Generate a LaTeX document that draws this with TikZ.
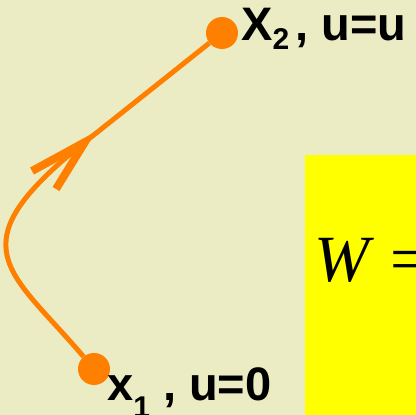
\documentclass[tikz,border=0pt]{standalone}
\usepackage{fontspec}
\setmainfont{Liberation Sans}
\newfontfamily\timesfont{Liberation Serif}
\usepackage{tikz}
\usetikzlibrary{positioning}
\definecolor{paper}{RGB}{236,236,196}
\definecolor{pathorange}{RGB}{255,128,0}
\definecolor{boxyellow}{RGB}{255,255,0}
\newcommand{\lowdigit}[2]{\raisebox{#1}{\fontsize{30}{30}\selectfont #2}}
\tikzset{
    pathdot/.style={
        circle,
        fill=pathorange,
        minimum size=32pt,
        inner sep=0pt
    },
    % orange route between the two end points
    orangepath/.style={
        line width=5pt,
        pathorange
    },
    chevron/.style={
        line width=8pt,
        pathorange,
        line join=miter,
        line cap=butt
    },
    pointlabel/.style={
        font=\bfseries\fontsize{47}{52}\selectfont,
        inner sep=0pt,
        anchor=base west
    }
}
\begin{document}
\begin{tikzpicture}[x=1pt,y=-1pt]
    \clip (0,0) rectangle (416,415);
    \fill[paper] (0,0) rectangle (416,415);
    \fill[boxyellow] (305,155) rectangle (416,415);
    \node[font=\timesfont\fontsize{66}{66}\selectfont, inner sep=0pt, anchor=base west] (work) at (314,281) {\textit{W} =};

    \node[pathdot] (x1dot) at (94,369) {};
    \node[pathdot] (x2dot) at (222,33) {};
    \coordinate (bend) at (85,142);

    \draw[orangepath] (x1dot) .. controls (10,270) and (-47,247) .. (bend) -- (x2dot);
    \draw[chevron, shift={(bend)}] (-53,29) -- (0,0) -- (-29,47);

    \node[pointlabel] (x2lbl) at (241,41) {X\lowdigit{-9pt}{2}\hspace{6pt}, u=u};
    \node[pointlabel] (x1lbl) at (107,400) {x\lowdigit{-17pt}{1} , u=0};
\end{tikzpicture}
\end{document}
